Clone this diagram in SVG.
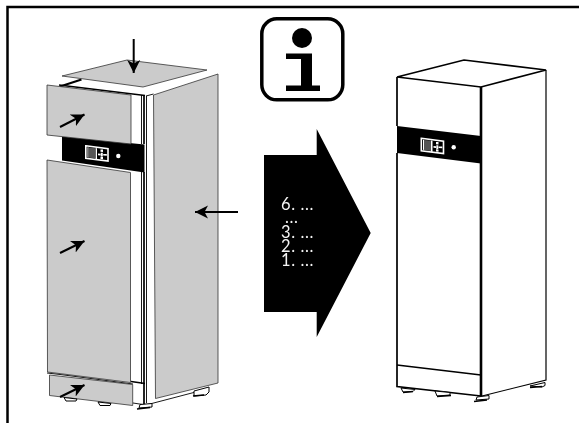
<svg xmlns="http://www.w3.org/2000/svg" width="579" height="423" viewBox="0 0 579 423">
<style>
.p{fill:#cbcbcb;stroke:#333;stroke-width:.8;stroke-linejoin:round}
.l{fill:none;stroke:#000;stroke-width:1.2}
.m{fill:none;stroke:#000;stroke-width:1.7}
.t{fill:none;stroke:#000;stroke-width:.9}
.f{fill:#fff;stroke:#000;stroke-width:1}
.k{fill:#000}
.w{fill:#fff}
.a{fill:none;stroke:#000;stroke-width:2;marker-end:url(#h)}
.n{font-family:"Lato","Liberation Sans",sans-serif;font-size:16.500px;letter-spacing:.6px;font-weight:400;fill:#f4f4f4}
</style>
<defs>
<filter id="g" x="0" y="0" width="1" height="1"><feColorMatrix type="identity"/></filter>
<marker id="h" markerUnits="userSpaceOnUse" markerWidth="14" markerHeight="14" refX="13" refY="7" orient="auto">
<path d="M0 0.500L13 7L0 13.500L3.500 7Z" fill="#000"/>
</marker>
<g id="pan">
<path d="M.8 .8L23 3.600V16L.8 13.200Z" fill="#000" stroke="#fff" stroke-width="1.600"/>
<path class="w" d="M2.500 2.200L3.500 2.300V12.400L2.500 12.300ZM10.500 3L12 3.200V14.500L10.500 14.300Z"/>
<path fill="#555" d="M3.500 2.400L10.500 3.200V13.400L3.500 12.500Z"/>
<path class="w" d="M15.500 4.500H18V7L15.500 6.800ZM13 8.400L15.500 8.700V10.600L13 10.300ZM15.800 7.800H17.800V11.500H15.800ZM18.200 9H21.800V10.800L18.200 10.400ZM15.500 11.800L18 12.100V14.200L15.500 14Z"/>
</g>
</defs>
<path id="frame" d="M7.500 423V7H579" fill="none" stroke="#000" stroke-width="2.500"/>
<g id="device-open">
<path class="w" d="M59 85L80 79L143 88L155 90L146 96L60 86Z"/>
<path d="M60 86.500L81.500 79.500" fill="none" stroke="#000" stroke-width="2"/>
<path class="m" d="M59 85L145 95.500"/>
<path class="t" d="M146 96L153.500 94"/>
<path class="k" d="M62 136.500L144.500 144.500V172.500L62 160.500Z"/>
<use href="#pan" x="85" y="145"/>
<circle class="w" cx="118.300" cy="156" r="2.200"/>
<path class="p" d="M47 85L131 95V144L47 135Z"/>
<path class="p" d="M47 160L130.500 172.500V382.500L47.500 372Z"/>
<path class="m" d="M144 95V144M144 172V405"/>
<path class="t" d="M141.500 95V144M141.500 172V384M146.500 96V403"/>
<path class="m" d="M131 381.500L145 383.500"/>
<path class="t" d="M47 373L60 374.500L133 384"/>
<path class="p" d="M49.500 375L132.700 384.500V405.500L49.500 395.500Z"/>
<path class="t" d="M133 403L146 405L209 388.500"/>
<path class="f" d="M64 397.500L77 399L76 401L66 401ZM98 402L111 403.500L110 405.500L100 405.500Z"/>
<path class="f" d="M194 391L209 387V392L206 395L194 396Z"/>
<path class="f" d="M139 408L140 404.500L152 403.500V407Z"/>
<path class="m" d="M137 409L150 407.500"/>
<path class="m" d="M193 396L204 395"/>
<path class="p" d="M153.500 95L218 74V383L155.500 398.500Z"/>
<path class="p" d="M62 76L127 60L207 70L143 87Z"/>
</g>
<g id="info">
<rect x="261.800" y="18.800" width="81" height="81" rx="15" fill="#fff" stroke="#000" stroke-width="3.500"/>
<circle class="k" cx="302" cy="38" r="10"/>
<path class="k" d="M286 53.500H312V85.500H320V91H286V85.500H301V59H286Z"/>
</g>
<g id="big-arrow">
<path class="k" d="M264 155H316.700V129L370.700 233L316.700 337V312H264Z"/>
<g filter="url(#g)">
<text class="n" x="281" y="210">6. ...</text>
<text class="n" x="285" y="223">...</text>
<text class="n" x="281" y="238">3. ...</text>
<text class="n" x="281" y="252">2. ...</text>
<text class="n" x="281" y="266">1. ...</text>
</g>
</g>
<g id="device-closed">
<path class="k" d="M397 126L481 136V163.500L397 153Z"/>
<use href="#pan" x="420.500" y="137.500"/>
<circle class="w" cx="453.700" cy="147.300" r="2.200"/>
<path class="m" d="M397 77L464 60L546 70L481 87L397 77"/>
<path class="m" d="M397 77V126M397 153V386.500L481 396"/>
<path class="l" d="M546 70V380L482 396"/>
<path d="M481 87V396" fill="none" stroke="#000" stroke-width="2.600"/>
<path class="m" d="M397 365L481 375"/>
<path class="f" d="M401 388L415 389.500L413 391.500L403 392ZM435 391L450 392.500L450 395L437 396Z"/>
<path class="m" d="M403 392.500L413 391.500M437 396.500L451 395.500"/>
<path class="f" d="M476 400L477 397L489 395.500V399Z"/>
<path class="m" d="M474 401.500L487 400"/>
<path class="f" d="M530 386L545 382.500V385.500L542 387Z"/>
<path class="m" d="M530 387.500L542 386.500"/>
</g>
<g id="connectors">
<path class="a" d="M133.700 39V73"/>
<path class="a" d="M60 127L84.500 114.500"/>
<path class="a" d="M60 253L84.500 241"/>
<path class="a" d="M60 397L84.500 385"/>
<path class="a" d="M238 212H195"/>
</g>
</svg>
